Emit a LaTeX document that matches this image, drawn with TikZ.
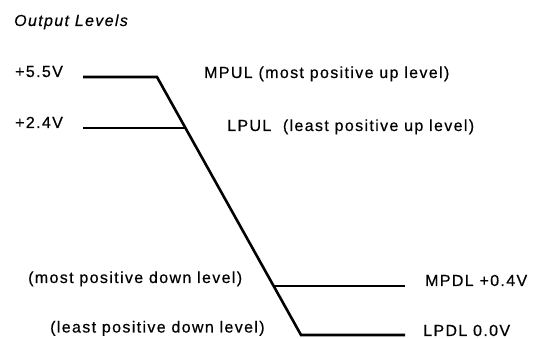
\documentclass[tikz,border=0pt]{standalone}
\usepackage{fontspec}
\usetikzlibrary{calc}
\setmainfont{Liberation Sans}[LetterSpace=8.5,FakeBold=0.4]
\begin{document}
\begin{tikzpicture}[x=1pt,y=-1pt,
  lbl/.style={anchor=base west,inner sep=0pt,font=\fontsize{16}{19}\selectfont},
  ttl/.style={anchor=base west,inner sep=0pt,font=\fontsize{16}{19}\selectfont\itshape},
  lvl/.style={line width=2.6pt}]
\useasboundingbox (0,0) rectangle (542,339);
\node[ttl] (title) at (14,26) {Output Levels};
\node[lbl] (v55) at (15,77) {+5.5V};
\node[lbl] (v24) at (15,128) {+2.4V};
\node[lbl] (mpul) at (204,78) {MPUL (most positive up level)};
\node[lbl] (lpul) at (227,131) {LPUL\ \ (least positive up level)};
\node[lbl] (mpdlt) at (28,283) {(most positive down level)};
\node[lbl] (lpdlt) at (50,332.5) {(least positive down level)};
\node[lbl] (mpdl) at (425,286) {MPDL +0.4V};
\node[lbl] (lpdl) at (423,336) {LPDL 0.0V};
\coordinate (a) at (83,77);
\coordinate (b) at (157,77);
\coordinate (c) at (301,335);
\coordinate (d) at (405,335);
\coordinate (e) at (83,128);
\coordinate (f) at ($(b)!0.197!(c)$);
\coordinate (g) at ($(b)!0.810!(c)$);
\coordinate (h) at (405,286);
\draw[lvl] (a) -- (b) -- (c) -- (d);
\draw[lvl] (e) -- (e -| f);
\draw[lvl] (g) -- (g -| h);
\end{tikzpicture}
\end{document}
